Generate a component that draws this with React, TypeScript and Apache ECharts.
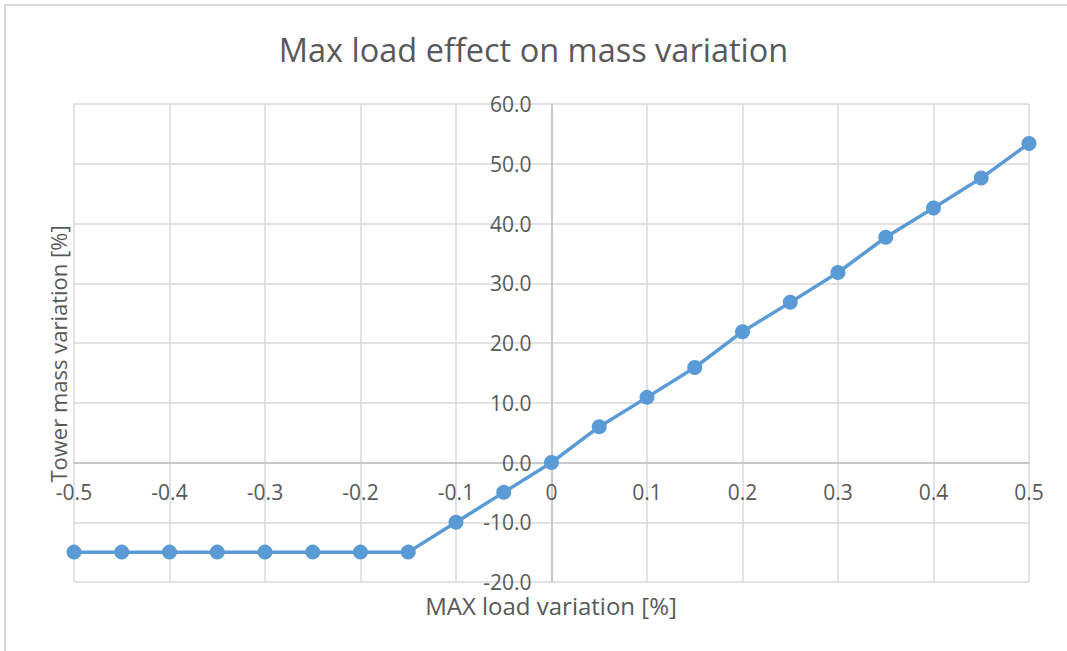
import React, { useEffect, useRef } from "react";
import * as echarts from "echarts";

const xValues = [-0.5, -0.45, -0.4, -0.35, -0.3, -0.25, -0.2, -0.15, -0.1, -0.05, 0, 0.05, 0.1, 0.15, 0.2, 0.25, 0.3, 0.35, 0.4, 0.45, 0.5];
const yValues = [-15, -15, -15, -15, -15, -15, -15, -15, -10, -5, 0, 6, 10.9, 15.9, 21.9, 26.8, 31.8, 37.7, 42.6, 47.6, 53.4];
const titleText = "Max load effect on mass variation";
const xAxisTitle = "MAX load variation [%]";
const yAxisTitle = "Tower mass variation [%]";

const FONT = "'Open Sans', 'Noto Sans', sans-serif";

// plot area geometry
const GL = 74;
const GR = 38;
const GT = 104;
const GB = 69;
const W = 1067;
const H = 651;
const X_MIN = -0.5;
const X_MAX = 0.5;
const Y_MIN = -20;
const Y_MAX = 60;

export default function App() {
  const ref = useRef<HTMLDivElement>(null);
  useEffect(() => {
    if (!ref.current) return;
    const chart = echarts.init(ref.current, null, { renderer: "svg" });
    const data = xValues.map((x, i) => [x, yValues[i]]);
    const gw = W - GL - GR;
    const gh = H - GT - GB;
    const zeroX = GL + ((0 - X_MIN) / (X_MAX - X_MIN)) * gw;
    const zeroY = GT + ((Y_MAX - 0) / (Y_MAX - Y_MIN)) * gh;
    chart.setOption({
      animation: false,
      backgroundColor: "#ffffff",
      title: {
        text: titleText,
        left: "center",
        top: 28,
        textStyle: { fontFamily: FONT, fontSize: 32.5, fontWeight: "normal", color: "#595959" },
      },
      grid: { left: GL, right: GR, top: GT, bottom: GB, containLabel: false },
      xAxis: {
        type: "value",
        min: X_MIN,
        max: X_MAX,
        interval: 0.1,
        position: "bottom",
        offset: -(H - GB - zeroY),
        axisLine: { show: true, onZero: false, lineStyle: { color: "#bfbfbf", width: 1.5 } },
        axisTick: { show: false },
        splitLine: { show: true, lineStyle: { color: "#d9d9d9", width: 1.5 } },
        axisLabel: {
          margin: 19,
          fontFamily: FONT,
          fontSize: 21,
          color: "#595959",
          showMinLabel: true,
          showMaxLabel: true,
          formatter: (v: number) => String(Number(v.toFixed(1))),
        },
      },
      yAxis: {
        type: "value",
        min: Y_MIN,
        max: Y_MAX,
        interval: 10,
        position: "left",
        offset: -(zeroX - GL),
        axisLine: { show: true, onZero: false, lineStyle: { color: "#bfbfbf", width: 1.5 } },
        axisTick: { show: false },
        splitLine: { show: true, lineStyle: { color: "#d9d9d9", width: 1.5 } },
        axisLabel: {
          margin: 20,
          fontFamily: FONT,
          fontSize: 21,
          color: "#595959",
          showMinLabel: true,
          showMaxLabel: true,
          formatter: (v: number) => v.toFixed(1),
        },
      },
      series: [
        {
          type: "line",
          data,
          symbol: "circle",
          symbolSize: 15,
          lineStyle: { color: "#5b9bd5", width: 3.5 },
          itemStyle: { color: "#5b9bd5" },
        },
      ],
      graphic: [
        {
          type: "text",
          x: 551,
          y: 605,
          style: {
            text: xAxisTitle,
            fontFamily: FONT,
            fontSize: 24,
            fill: "#595959",
            align: "center",
            verticalAlign: "middle",
          },
        },
        {
          type: "text",
          x: 58,
          y: 354,
          rotation: Math.PI / 2,
          style: {
            text: yAxisTitle,
            fontFamily: FONT,
            fontSize: 22,
            fill: "#595959",
            align: "center",
            verticalAlign: "middle",
          },
        },
      ],
    });
    return () => chart.dispose();
  }, []);
  return (
    <div style={{ position: "absolute", left: 0, top: 0, width: W, height: H, overflow: "hidden", background: "#fff" }}>
      <div ref={ref} style={{ position: "absolute", left: 0, top: 0, width: W, height: H }} />
      <div
        style={{
          position: "absolute",
          left: 4,
          top: 4,
          width: W + 20,
          height: H + 20,
          borderLeft: "2px solid #d9d9d9",
          borderTop: "2px solid #d9d9d9",
          pointerEvents: "none",
        }}
      />
    </div>
  );
}
